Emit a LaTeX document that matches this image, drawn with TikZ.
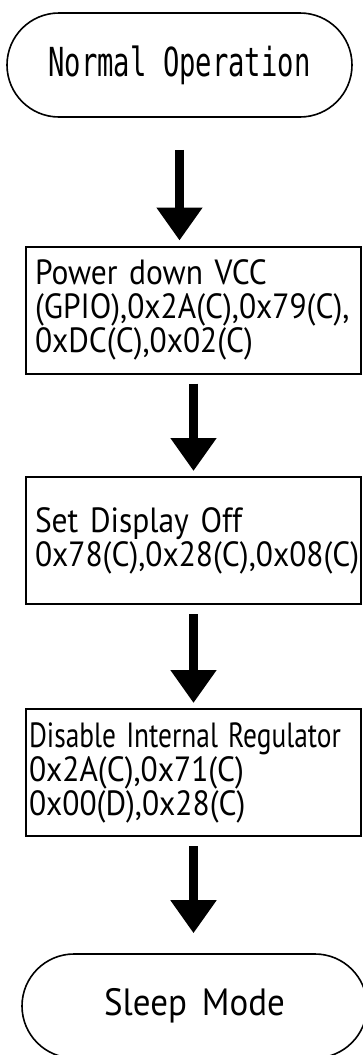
\documentclass[tikz,border=0pt]{standalone}
\usepackage{fontspec}
\usetikzlibrary{arrows.meta}
\newfontfamily\monofont[FakeStretch=0.68]{DejaVu Sans Mono}
\newfontfamily\boxfont[FakeStretch=0.9,WordSpace=1.8]{PT Sans}
\newfontfamily\sleepfont[FakeStretch=0.92,WordSpace=1.6]{PT Sans}
\begin{document}
\begin{tikzpicture}[x=1pt,y=-1pt,
  term/.style={draw=black,line width=1.6pt,rounded corners=52pt,minimum width=345pt,minimum height=104pt,inner sep=0pt},
  stepbox/.style={draw=black,line width=2pt,minimum width=335pt,minimum height=127pt,inner ysep=0pt,inner xsep=9pt,text width=317pt,align=left,font=\boxfont\fontsize{35}{34}\selectfont},
  flow/.style={line width=9pt,-{Triangle[width=44pt,length=33pt]}}]
\useasboundingbox (0,0) rectangle (362,1055);
\node[term,font=\monofont\fontsize{40}{40}\selectfont] (start) at (179.5,65) {Normal Operation};
\node[stepbox] (b1) at (193.5,310) {Power down VCC\\(GPIO),0x2A(C),0x79(C),\\0xDC(C),0x02(C)};
\node[stepbox] (b2) at (193.5,540.5) {Set Display Off\\0x78(C),0x28(C),0x08(C)};
\node[stepbox,inner xsep=3pt,text width=329pt] (b3) at (193.5,772.5) {\scalebox{0.87}[1]{Disable Internal Regulator}\\0x2A(C),0x71(C)\\0x00(D),0x28(C)};
\node[term,font=\sleepfont\fontsize{38}{38}\selectfont] (sleep) at (194.5,1006) {Sleep Mode};
\draw[flow,shorten <=32pt,shorten >=5pt] (start) -- (start|-b1.north);
\draw[flow,shorten <=9pt,shorten >=5pt] (b1) -- (b2);
\draw[flow,shorten <=9pt,shorten >=5pt] (b2) -- (b3);
\draw[flow,shorten <=9pt,shorten >=20pt] (b3) -- (b3|-sleep.north);
\end{tikzpicture}
\end{document}
